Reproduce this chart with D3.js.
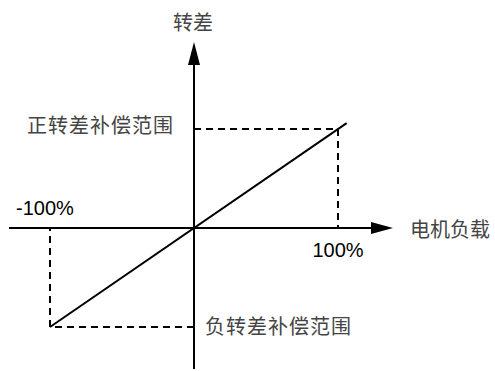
<!DOCTYPE html>
<html><head><meta charset="utf-8">
<script src="https://cdn.jsdelivr.net/npm/d3@7"></script>
<style>body{margin:0;background:#fff}svg{display:block}</style>
</head><body>
<script>
const loadRange = [-100, 100];          // 电机负载 %
const slipRange = [-100, 100];          // 转差
const lineX = [-100, 106];
const lineY = [-100, 106];
const tickLabels = ["-100%", "100%"];
const axisTitles = ["电机负载", "转差"];
const rangeLabels = ["正转差补偿范围", "负转差补偿范围"];

const W = 495, H = 371;
const svg = d3.select("body").append("svg").attr("width", W).attr("height", H);
const x = d3.scaleLinear().domain(loadRange).range([50, 338]);
const y = d3.scaleLinear().domain(slipRange).range([327, 129]);
const x0 = x(0), y0 = y(0);
const cjk = "'Noto Sans CJK SC', sans-serif";
const txtCol = "#444";

// axes
svg.append("line").attr("x1", 9).attr("x2", 372).attr("y1", y0).attr("y2", y0)
  .attr("stroke", "#000").attr("stroke-width", 2);
svg.append("path").attr("d", `M393,${y0} L371,${y0-6} L371,${y0+6} Z`).attr("fill", "#000");
svg.append("line").attr("x1", x0).attr("x2", x0).attr("y1", 64).attr("y2", 369)
  .attr("stroke", "#000").attr("stroke-width", 2);
svg.append("path").attr("d", `M${x0},42 L${x0-6},65 L${x0+6},65 Z`).attr("fill", "#000");

// dashed guides
const dash = "7,5";
svg.append("path").attr("d", `M${x0},${y(100)} H${x(100)} V${y0}`)
  .attr("fill", "none").attr("stroke", "#000").attr("stroke-width", 2).attr("stroke-dasharray", dash);
svg.append("path").attr("d", `M${x0},${y(-100)} H${x(-100)} V${y0}`)
  .attr("fill", "none").attr("stroke", "#000").attr("stroke-width", 2).attr("stroke-dasharray", dash);

// characteristic line
const pts = lineX.map((v, i) => [v, lineY[i]]);
svg.append("path").datum(pts)
  .attr("d", d3.line().x(d => x(d[0])).y(d => y(d[1])))
  .attr("fill", "none").attr("stroke", "#000").attr("stroke-width", 2);

// tick labels
svg.append("text").attr("x", 16).attr("y", 215).text(tickLabels[0])
  .attr("font-family", "'Liberation Sans', Arial, sans-serif").attr("font-size", 20).attr("fill", "#000");
svg.append("text").attr("x", x(100)).attr("y", 257).attr("text-anchor", "middle").text(tickLabels[1])
  .attr("font-family", "'Liberation Sans', Arial, sans-serif").attr("font-size", 20).attr("fill", "#000");

// titles
svg.append("text").attr("x", 410).attr("y", y0).attr("dominant-baseline", "central").text(axisTitles[0])
  .attr("font-family", cjk).attr("font-size", 20).attr("fill", txtCol);
svg.append("text").attr("x", x0 - 1).attr("y", 21).attr("dominant-baseline", "central")
  .attr("text-anchor", "middle").text(axisTitles[1])
  .attr("font-family", cjk).attr("font-size", 20).attr("fill", txtCol);
svg.append("text").attr("x", 27).attr("y", 124).attr("dominant-baseline", "central").text(rangeLabels[0])
  .attr("font-family", cjk).attr("font-size", 20).attr("fill", txtCol).attr("letter-spacing", 1);
svg.append("text").attr("x", 205).attr("y", 325).attr("dominant-baseline", "central").text(rangeLabels[1])
  .attr("font-family", cjk).attr("font-size", 20).attr("fill", txtCol).attr("letter-spacing", 1);
</script>
</body></html>
